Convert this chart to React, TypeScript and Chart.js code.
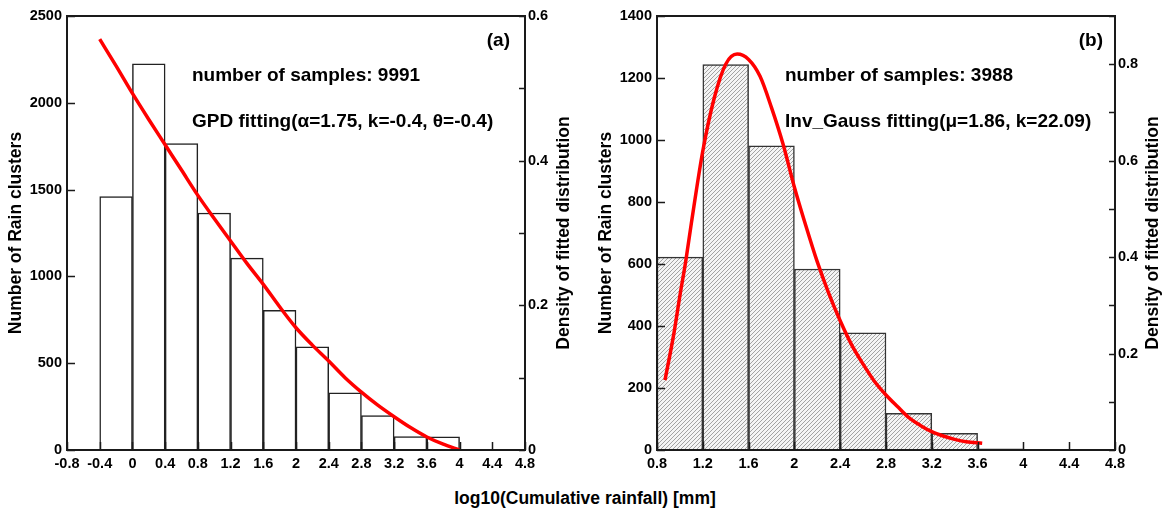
import React, { useEffect, useRef } from "react";
import { Chart, registerables } from "chart.js";

Chart.register(...registerables);

const FONT = "'Liberation Sans', Arial, Helvetica, sans-serif";

// ---------- Panel (a) ----------
const binCentersA = [-0.2, 0.2, 0.6, 1.0, 1.4, 1.8, 2.2, 2.6, 3.0, 3.4, 3.8];
const countsA = [1460, 2225, 1765, 1365, 1105, 805, 595, 330, 198, 78, 76];
const curveXA = [-0.4, -0.2, 0, 0.2, 0.4, 0.6, 0.8, 1.0, 1.2, 1.4, 1.6, 1.8, 2.0, 2.2, 2.4, 2.6, 2.8, 3.0, 3.2, 3.4, 3.6, 3.8, 4.0];
const curveYA = [0.568, 0.531, 0.493, 0.457, 0.422, 0.387, 0.352, 0.320, 0.289, 0.258, 0.229, 0.198, 0.169, 0.145, 0.123, 0.100, 0.080, 0.062, 0.046, 0.031, 0.018, 0.008, 0.0];
const xTicksA = [-0.8, -0.4, 0, 0.4, 0.8, 1.2, 1.6, 2, 2.4, 2.8, 3.2, 3.6, 4, 4.4, 4.8];
const countTicksA = [0, 500, 1000, 1500, 2000, 2500];
const densTicksA = [0, 0.1, 0.2, 0.3, 0.4, 0.5, 0.6];
const densLabelsA = [0, 0.2, 0.4, 0.6];
const textsA = ["(a)", "number of samples: 9991", "GPD fitting(α=1.75, k=-0.4, θ=-0.4)"];

// ---------- Panel (b) ----------
const binCentersB = [1.0, 1.4, 1.8, 2.2, 2.6, 3.0, 3.4, 3.8];
const countsB = [622, 1243, 981, 584, 378, 118, 54, 4];
const curveXB = [0.87, 0.95, 1.0, 1.05, 1.1, 1.2, 1.3, 1.4, 1.5, 1.6, 1.7, 1.8, 1.9, 2.0, 2.1, 2.2, 2.3, 2.4, 2.5, 2.6, 2.7, 2.8, 2.9, 3.0, 3.1, 3.2, 3.3, 3.4, 3.5, 3.64];
const curveYB = [0.145, 0.245, 0.32, 0.39, 0.47, 0.62, 0.73, 0.80, 0.821, 0.81, 0.775, 0.71, 0.635, 0.545, 0.465, 0.39, 0.325, 0.268, 0.218, 0.178, 0.142, 0.114, 0.090, 0.067, 0.051, 0.038, 0.029, 0.022, 0.017, 0.014];
const xTicksB = [0.8, 1.2, 1.6, 2, 2.4, 2.8, 3.2, 3.6, 4, 4.4, 4.8];
const countTicksB = [0, 200, 400, 600, 800, 1000, 1200, 1400];
const densTicksB = [0, 0.1, 0.2, 0.3, 0.4, 0.5, 0.6, 0.7, 0.8, 0.9];
const densLabelsB = [0, 0.2, 0.4, 0.6, 0.8];
const textsB = ["(b)", "number of samples: 3988", "Inv_Gauss fitting(μ=1.86, k=22.09)"];

const X_TITLE = "log10(Cumulative rainfall) [mm]";
const Y_TITLE = "Number of Rain clusters";
const Y2_TITLE = "Density of fitted distribution";

function hatchPattern(ctx: CanvasRenderingContext2D) {
  const c = document.createElement("canvas");
  c.width = 4;
  c.height = 4;
  const g = c.getContext("2d")!;
  g.fillStyle = "#f4f4f4";
  g.fillRect(0, 0, 4, 4);
  g.fillStyle = "#a2a2a2";
  for (let i = 0; i < 4; i++) g.fillRect(i, 3 - i, 1, 1);
  return ctx.createPattern(c, "repeat");
}

const frameTicksPlugin = {
  id: "frameTicks",
  afterDraw(chart: any, _args: any, opts: any) {
    const { ctx, chartArea: a, scales } = chart;
    ctx.save();
    ctx.strokeStyle = "#1a1a1a";
    ctx.lineWidth = 1.5;
    ctx.beginPath();
    scales.x.ticks.forEach((t: any) => {
      const p = Math.round(scales.x.getPixelForValue(t.value)) + 0.5;
      ctx.moveTo(p, a.bottom);
      ctx.lineTo(p, a.bottom - 8);
    });
    scales.y.ticks.forEach((t: any) => {
      const p = Math.round(scales.y.getPixelForValue(t.value)) + 0.5;
      ctx.moveTo(a.left, p);
      ctx.lineTo(a.left + 8, p);
    });
    scales.y2.ticks.forEach((t: any) => {
      const p = Math.round(scales.y2.getPixelForValue(t.value)) + 0.5;
      ctx.moveTo(a.right, p);
      ctx.lineTo(a.right - 6, p);
    });
    ctx.stroke();
    ctx.lineWidth = 2;
    ctx.strokeRect(a.left, a.top, a.right - a.left, a.bottom - a.top);

    ctx.fillStyle = "#000";
    // right-hand axis title, reading bottom to top
    ctx.save();
    ctx.translate(opts.y2TitleX, (a.top + a.bottom) / 2);
    ctx.rotate(-Math.PI / 2);
    ctx.font = `bold 17.5px ${FONT}`;
    ctx.textAlign = "center";
    ctx.textBaseline = "middle";
    ctx.fillText(Y2_TITLE, 0, 0);
    ctx.restore();

    (opts.texts || []).forEach((t: any) => {
      ctx.font = `bold ${t.size}px ${FONT}`;
      ctx.textAlign = t.align;
      ctx.textBaseline = "middle";
      ctx.fillText(t.text, t.x, t.y);
    });
    ctx.restore();
  },
};

type PanelProps = {
  centers: number[];
  counts: number[];
  curveX: number[];
  curveY: number[];
  xTicks: number[];
  countTicks: number[];
  densTicks: number[];
  densLabels: number[];
  texts: string[];
  hatched: boolean;
  y2TitleX: number;
  textX: number;
  labelRight: number;
};

function Panel(p: PanelProps) {
  const ref = useRef<HTMLCanvasElement>(null);
  useEffect(() => {
    const canvas = ref.current!;
    const ctx = canvas.getContext("2d")!;
    const tickFont = { family: FONT, size: 14.5, weight: "bold" as const };
    const noGrid = { display: false, drawTicks: false, tickLength: 0 };
    const chart = new Chart(ctx, {
      type: "bar",
      data: {
        datasets: [
          {
            type: "line",
            data: p.curveX.map((x, i) => ({ x, y: p.curveY[i] })),
            yAxisID: "y2",
            borderColor: "#ff0000",
            borderWidth: 3.5,
            pointRadius: 0,
            fill: false,
            cubicInterpolationMode: "monotone",
            order: 0,
          } as any,
          {
            type: "bar",
            data: p.centers.map((x, i) => ({ x, y: p.counts[i] })),
            yAxisID: "y",
            backgroundColor: p.hatched ? (hatchPattern(ctx) as any) : "#ffffff",
            borderColor: p.hatched ? "#333333" : "#222222",
            borderWidth: 1.5,
            barPercentage: 1,
            categoryPercentage: 1,
            order: 1,
          } as any,
        ],
      },
      options: {
        responsive: false,
        animation: false,
        events: [],
        layout: { padding: { top: 16, left: 0, right: 0, bottom: 0 } },
        plugins: {
          legend: { display: false },
          tooltip: { enabled: false },
          frameTicks: {
            y2TitleX: p.y2TitleX,
            texts: [
              { text: p.texts[0], x: p.labelRight, y: 41, size: 19, align: "right" },
              { text: p.texts[1], x: p.textX, y: 76, size: 19, align: "left" },
              { text: p.texts[2], x: p.textX, y: 122, size: 19, align: "left" },
            ],
          },
        } as any,
        scales: {
          x: {
            type: "linear",
            min: p.xTicks[0],
            max: p.xTicks[p.xTicks.length - 1],
            offset: false,
            afterBuildTicks: (s: any) => {
              s.ticks = p.xTicks.map((v) => ({ value: v }));
            },
            afterFit: (s: any) => {
              s.height = 25;
            },
            ticks: {
              autoSkip: false,
              maxRotation: 0,
              padding: 5,
              color: "#000",
              font: tickFont,
              callback: (v: any) => String(v),
            },
            grid: noGrid,
            border: { display: false },
          },
          y: {
            type: "linear",
            position: "left",
            min: p.countTicks[0],
            max: p.countTicks[p.countTicks.length - 1],
            afterBuildTicks: (s: any) => {
              s.ticks = p.countTicks.map((v) => ({ value: v }));
            },
            afterFit: (s: any) => {
              s.width = 67;
            },
            ticks: {
              autoSkip: false,
              padding: 5,
              color: "#000",
              font: tickFont,
              callback: (v: any) => String(v),
            },
            title: {
              display: true,
              text: Y_TITLE,
              color: "#000",
              font: { family: FONT, size: 17.5, weight: "bold" },
              padding: { top: 6, bottom: 0 },
            },
            grid: noGrid,
            border: { display: false },
          },
          y2: {
            type: "linear",
            position: "right",
            min: p.densTicks[0],
            max: p.densTicks[p.densTicks.length - 1],
            afterBuildTicks: (s: any) => {
              s.ticks = p.densTicks.map((v) => ({ value: v }));
            },
            afterFit: (s: any) => {
              s.width = 50;
            },
            ticks: {
              autoSkip: false,
              padding: 3,
              color: "#000",
              font: tickFont,
              callback: (v: any) => (p.densLabels.includes(v) ? String(v) : ""),
            },
            grid: noGrid,
            border: { display: false },
          },
        },
      } as any,
      plugins: [frameTicksPlugin as any],
    });
    return () => chart.destroy();
  }, []);
  return <canvas ref={ref} width={575} height={475} style={{ display: "block", width: 575, height: 475 }} />;
}

export default function App() {
  return (
    <div style={{ position: "absolute", left: 0, top: 0, width: 1165, height: 513, background: "#fff", overflow: "hidden" }}>
      <div style={{ position: "absolute", left: 0, top: 0 }}>
        <Panel
          centers={binCentersA}
          counts={countsA}
          curveX={curveXA}
          curveY={curveYA}
          xTicks={xTicksA}
          countTicks={countTicksA}
          densTicks={densTicksA}
          densLabels={densLabelsA}
          texts={textsA}
          hatched={false}
          y2TitleX={564}
          textX={192}
          labelRight={510}
        />
      </div>
      <div style={{ position: "absolute", left: 590, top: 0 }}>
        <Panel
          centers={binCentersB}
          counts={countsB}
          curveX={curveXB}
          curveY={curveYB}
          xTicks={xTicksB}
          countTicks={countTicksB}
          densTicks={densTicksB}
          densLabels={densLabelsB}
          texts={textsB}
          hatched={true}
          y2TitleX={563}
          textX={195}
          labelRight={513}
        />
      </div>
      <div
        style={{
          position: "absolute",
          left: 585,
          top: 488,
          transform: "translateX(-50%)",
          whiteSpace: "nowrap",
          fontFamily: FONT,
          fontWeight: "bold",
          fontSize: 17.5,
          lineHeight: "20px",
          color: "#000",
        }}
      >
        {X_TITLE}
      </div>
    </div>
  );
}
